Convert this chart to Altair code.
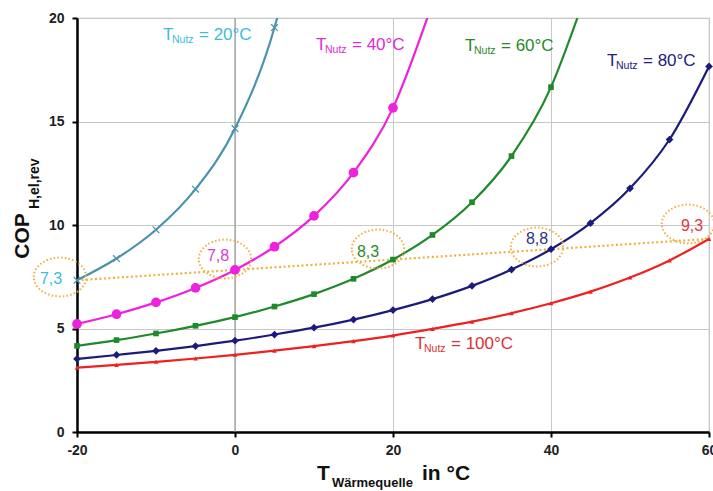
import altair as alt
import pandas as pd

FONT = "Liberation Sans"

# ---- data ----
t_source = [-20, -15, -10, -5, 0, 5, 10, 15, 20, 25, 30, 35, 40, 45, 50, 55, 60]
cop_20 = [7.33, 8.38, 9.77, 11.73, 14.66, 19.54]
cop_40 = [5.22, 5.69, 6.26, 6.96, 7.83, 8.95, 10.44, 12.53, 15.66]
cop_60 = [4.16, 4.44, 4.76, 5.13, 5.55, 6.06, 6.66, 7.40, 8.33, 9.52, 11.10, 13.33, 16.66]
cop_80 = [3.53, 3.72, 3.92, 4.15, 4.41, 4.71, 5.04, 5.43, 5.89, 6.42, 7.06, 7.85, 8.83,
          10.09, 11.77, 14.13, 17.66]
cop_100 = [3.11, 3.24, 3.39, 3.55, 3.73, 3.93, 4.15, 4.39, 4.66, 4.98, 5.33, 5.74, 6.22,
           6.78, 7.46, 8.29, 9.33]
# where the curves leave the chart at the top edge (x, 20)
exit_x = {"20": 5.34, "40": 24.34, "60": 43.34}

# orange comparison line (T_Nutz = T_Quelle + 40 K)
cmp_x = [-20, 0, 20, 40, 60]
cmp_y = [7.33, 7.83, 8.33, 8.83, 9.33]
cmp_labels = ["7,3", "7,8", "8,3", "8,8", "9,3"]

x_ticks = [-20, 0, 20, 40, 60]
y_ticks = [0, 5, 10, 15, 20]

series = [
    # name, values, line colour, label colour, marker
    ("20", cop_20, "#4a93ad", "#3cbcdc", "x"),
    ("40", cop_40, "#ee22dd", "#e02ad4", "circle"),
    ("60", cop_60, "#1f8a2a", "#2a8a2a", "square"),
    ("80", cop_80, "#1b1b7c", "#20207e", "diamond"),
    ("100", cop_100, "#ee2020", "#e03030", "triangle-up"),
]

W, H = 632, 414
xs = alt.Scale(domain=[-20, 60], nice=False, zero=False)
ys = alt.Scale(domain=[0, 20], nice=False)

x_axis = alt.Axis(values=x_ticks, title=None, grid=True, gridColor="#c8c8c8",
                  domainColor="black", domainWidth=2.5, tickColor="black",
                  tickSize=5, tickWidth=2, labelFont=FONT, labelFontSize=14,
                  labelFontWeight="bold", labelColor="#222", labelPadding=6,
                  labelFlush=False, labelExpr="'' + datum.value")
y_axis = alt.Axis(values=y_ticks, title=None, grid=True, gridColor="#c8c8c8",
                  domainColor="black", domainWidth=2.5, tickColor="black",
                  tickSize=5, tickWidth=2, labelFont=FONT, labelFontSize=14,
                  labelFontWeight="bold", labelColor="#222", labelPadding=8)

layers = []

# axes carrier + darker grid line at 0
zero_df = pd.DataFrame({"x": [0]})
layers.append(
    alt.Chart(zero_df).mark_rule(color="#9a9a9a", strokeWidth=1.2).encode(
        x=alt.X("x:Q", scale=xs, axis=x_axis)
    )
)

# orange dotted comparison line
cmp_df = pd.DataFrame({"x": cmp_x, "y": cmp_y})
layers.append(
    alt.Chart(cmp_df).mark_line(color="#f0b040", strokeWidth=2.2, strokeDash=[2, 2.5]).encode(
        x=alt.X("x:Q", scale=xs, axis=x_axis),
        y=alt.Y("y:Q", scale=ys, axis=y_axis),
    )
)

cross_path = "M-1,-1L1,1M1,-1L-1,1"
for name, vals, lc, tc, marker in series:
    xv = t_source[: len(vals)]
    line_x = list(xv)
    line_y = list(vals)
    if name in exit_x:
        line_x.append(exit_x[name])
        line_y.append(20.0)
    ldf = pd.DataFrame({"x": line_x, "y": line_y})
    pdf = pd.DataFrame({"x": xv, "y": vals})
    layers.append(
        alt.Chart(ldf).mark_line(color=lc, strokeWidth=2.2, interpolate="monotone", clip=True).encode(
            x=alt.X("x:Q", scale=xs), y=alt.Y("y:Q", scale=ys)
        )
    )
    if marker == "x":
        pm = alt.Chart(pdf).mark_point(shape=cross_path, size=45, filled=False,
                                       color=lc, strokeWidth=1.3, opacity=1)
    elif marker == "circle":
        pm = alt.Chart(pdf).mark_point(shape="circle", size=95, filled=True, color=lc, opacity=1)
    elif marker == "square":
        pm = alt.Chart(pdf).mark_point(shape="square", size=32, filled=True, color=lc, opacity=1)
    elif marker == "diamond":
        pm = alt.Chart(pdf).mark_point(shape="diamond", size=60, filled=True, color=lc, opacity=1)
    else:
        pm = alt.Chart(pdf).mark_point(shape="triangle-up", size=22, filled=True, color=lc, opacity=1)
    layers.append(pm.encode(x=alt.X("x:Q", scale=xs), y=alt.Y("y:Q", scale=ys)))


def txt(s, px, py, size, color, weight="normal", align="left", baseline="middle", angle=0):
    d = pd.DataFrame({"t": [s]})
    return alt.Chart(d).mark_text(
        font=FONT, fontSize=size, fontWeight=weight, color=color, align=align,
        baseline=baseline, angle=angle
    ).encode(x=alt.value(px), y=alt.value(py), text="t:N")


# dotted ellipses around the comparison values
ellipse_path = "M-1,0A1,0.74 0 1,1 1,0A1,0.74 0 1,1 -1,0Z"
ell_pos = [(60, 277), (225, 259), (378, 249), (537, 247), (688, 224)]
for (px, py) in ell_pos:
    d = pd.DataFrame({"k": [0]})
    layers.append(
        alt.Chart(d).mark_point(shape=ellipse_path, size=2750, filled=False, color="#f0b040",
                                strokeWidth=2, strokeDash=[1.5, 2.2], opacity=1).encode(
            x=alt.value(px - 77), y=alt.value(py - 18)
        )
    )

val_pos = [(51, 279), (218, 256), (368, 252), (537, 239), (692, 226)]
val_cols = ["#3cbcdc", "#d640d0", "#2a8a2a", "#30308e", "#e03a3a"]
for lab, (px, py), c in zip(cmp_labels, val_pos, val_cols):
    layers.append(txt(lab, px - 77, py - 18, 16, c, align="center"))

# curve labels  T_Nutz = ..°C
lab_pos = {"20": (163, 35), "40": (316, 45), "60": (465, 46), "80": (607, 61), "100": (415, 344)}
for name, vals, lc, tc, marker in series:
    px, py = lab_pos[name]
    px -= 77
    py -= 18
    layers.append(txt("T", px, py, 17, tc))
    layers.append(txt("Nutz", px + 9, py + 5, 10.5, tc))
    layers.append(txt("= " + name + "°C", px + 36, py, 17, tc))

# axis titles with subscripts
layers.append(txt("COP", 23 - 77, 236 - 18, 21, "#111", weight="bold", align="center", angle=270))
layers.append(txt("H,el,rev", 35 - 77, 209 - 18, 14, "#111", weight="bold", align="left", angle=270))
layers.append(txt("T", 317 - 77, 480 - 18, 21, "#111", weight="bold", baseline="alphabetic"))
layers.append(txt("Wärmequelle", 332 - 77, 487 - 18, 13, "#111", weight="bold", baseline="alphabetic"))
layers.append(txt("in °C", 422 - 77, 480 - 18, 21, "#111", weight="bold", baseline="alphabetic"))

chart = alt.layer(*layers).properties(
    width=W, height=H,
    autosize=alt.AutoSizeParams(type="none"),
    padding={"left": 77, "top": 18, "right": 4, "bottom": 59},
    background="white",
).configure_view(stroke="#bdbdbd", strokeWidth=1.2)

chart.save("out.html", embed_options={"renderer": "svg", "actions": False})
